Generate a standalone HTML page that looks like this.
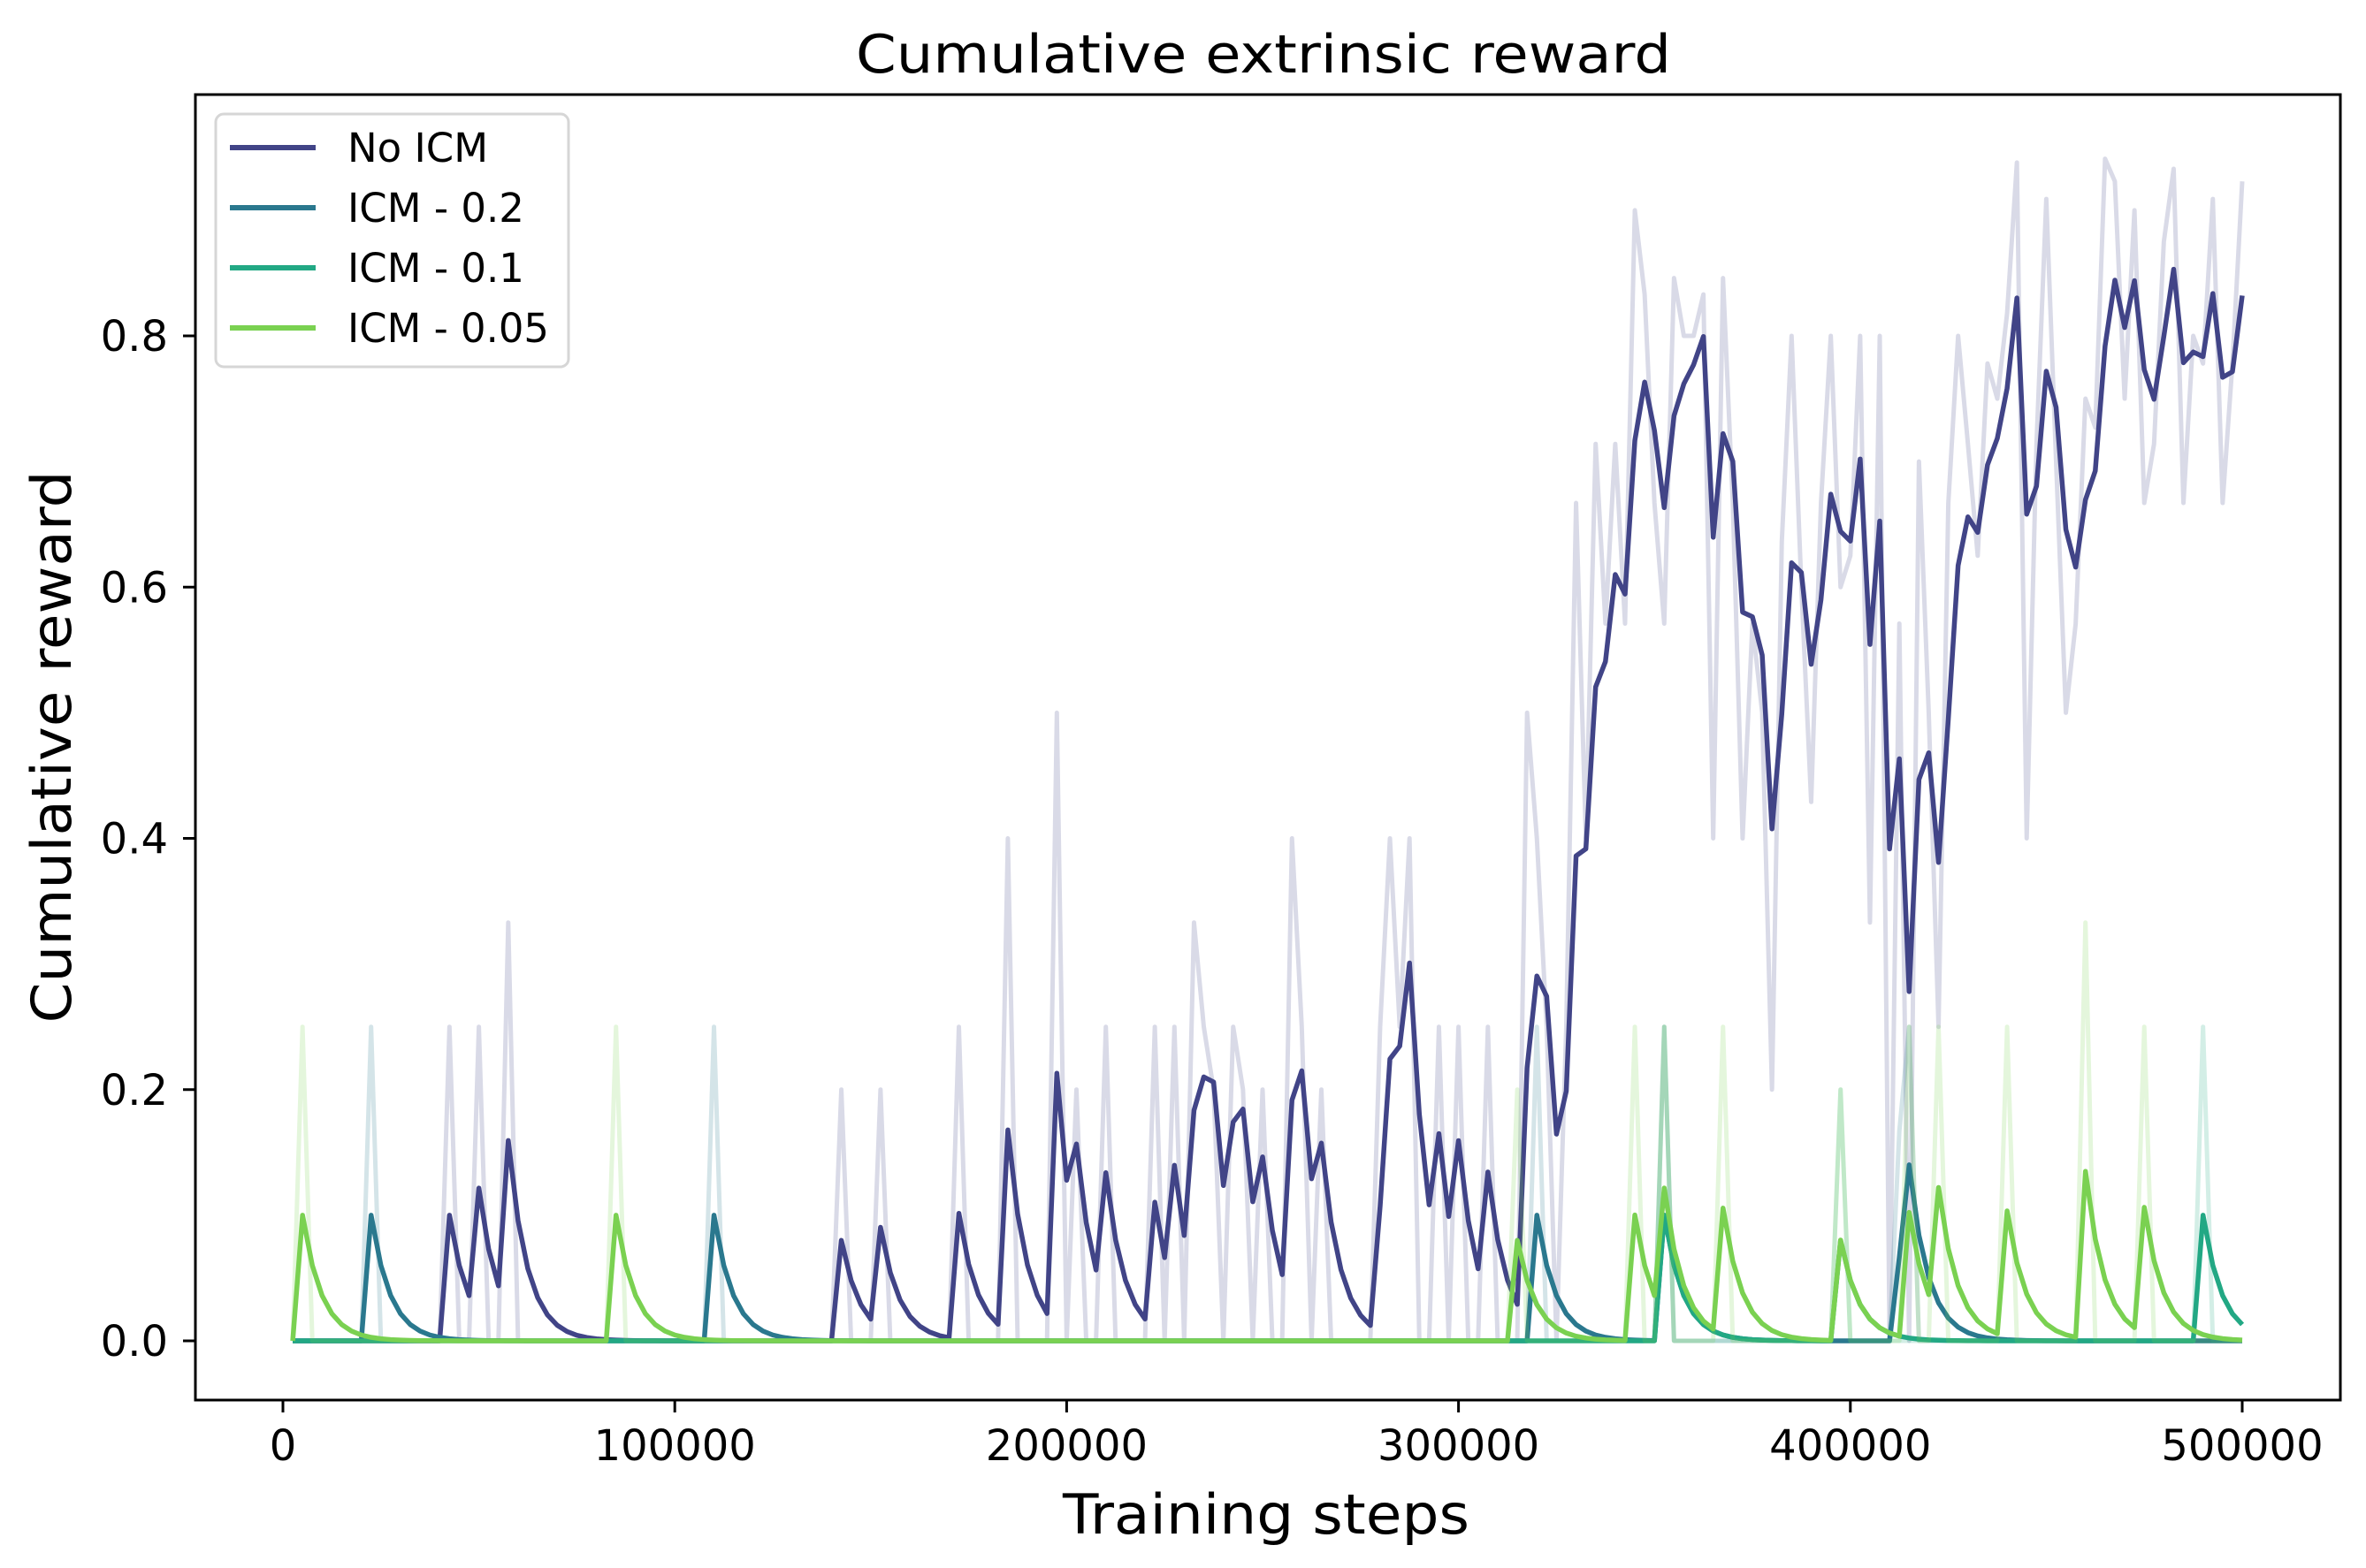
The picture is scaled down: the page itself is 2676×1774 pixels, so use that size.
<!DOCTYPE html>
<html>
<head>
<meta charset="utf-8">
<style>
  html, body { margin: 0; padding: 0; background: #ffffff; }
  svg { display: block; }
  text { font-family: "DejaVu Sans", "Liberation Sans", sans-serif; fill: #000; }
</style>
</head>
<body>
<svg id="chart" width="2676" height="1774" viewBox="0 0 2676 1774" xmlns="http://www.w3.org/2000/svg">
  <rect x="0" y="0" width="2676" height="1774" fill="#ffffff"/>
  <text x="1429" y="82" font-size="60" text-anchor="middle" textLength="922" lengthAdjust="spacingAndGlyphs">Cumulative extrinsic reward</text>
  <g id="series-layer"></g>
  <g id="axes-layer"></g>
  <text x="1432" y="1735" font-size="62" text-anchor="middle" textLength="460" lengthAdjust="spacingAndGlyphs">Training steps</text>
  <text transform="translate(80,845) rotate(-90)" x="0" y="0" font-size="62" text-anchor="middle" textLength="625" lengthAdjust="spacingAndGlyphs">Cumulative reward</text>
  <g id="legend">
    <rect x="244" y="129" width="399" height="286" rx="9" ry="9" fill="#ffffff" fill-opacity="0.8" stroke="#d6d6d6" stroke-width="3"/>
    <line x1="260" y1="167" x2="357" y2="167" stroke="#414487" stroke-width="6"/>
    <text x="393" y="183" font-size="45">No ICM</text>
    <line x1="260" y1="235" x2="357" y2="235" stroke="#2a788e" stroke-width="6"/>
    <text x="393" y="251" font-size="45">ICM - 0.2</text>
    <line x1="260" y1="303" x2="357" y2="303" stroke="#22a884" stroke-width="6"/>
    <text x="393" y="319" font-size="45">ICM - 0.1</text>
    <line x1="260" y1="371" x2="357" y2="371" stroke="#7ad151" stroke-width="6"/>
    <text x="393" y="387" font-size="45" textLength="228" lengthAdjust="spacingAndGlyphs">ICM - 0.05</text>
  </g>
</svg>
<script>
// ---- data ----
const stepInterval = 2500;          // logging interval (training steps)
const pointCount = 200;
const smoothingWeight = 0.6;        // EMA weight used for the bold lines
const xTicks = [0, 100000, 200000, 300000, 400000, 500000];
const xTickLabels = ["0", "100000", "200000", "300000", "400000", "500000"];
const yTicks = [0.0, 0.2, 0.4, 0.6, 0.8];
const yTickLabels = ["0.0", "0.2", "0.4", "0.6", "0.8"];

const noIcmRaw = [
  0,0,0,0,0,0,0,0,0,0,
  0,0,0,0,0,0,.25,0,0,.25,
  0,0,.333,0,0,0,0,0,0,0,
  0,0,0,0,0,0,0,0,0,0,
  0,0,0,0,0,0,0,0,0,0,
  0,0,0,0,0,0,.2,0,0,0,
  .2,0,0,0,0,0,0,0,.25,0,
  0,0,0,.4,0,0,0,0,.5,0,
  .2,0,0,.25,0,0,0,0,.25,0,
  .25,0,.333,.25,.2,0,.25,.2,0,.2,
  0,0,.4,.25,0,.2,0,0,0,0,
  0,.25,.4,.25,.4,0,0,.25,0,.25,
  0,0,.25,0,0,0,.5,.4,.25,0,
  .25,.667,.4,.714,.571,.714,.571,.9,.833,.667,
  .571,.846,.8,.8,.833,.4,.846,.667,.4,.571,
  .5,.2,.636,.8,.6,.429,.667,.8,.6,.625,
  .8,.333,.8,0,.571,0,.7,.5,.25,.667,
  .8,.714,.625,.778,.75,.818,.938,.4,.714,.909,
  .7,.5,.571,.75,.727,.941,.923,.75,.9,.667,
  .714,.875,.933,.667,.8,.778,.909,.667,.778,.923
];
// sparse series: training step of each non-zero reading and its value
const icm02Steps = [22500, 110000, 320000, 352500, 412500, 415000];
const icm02Vals  = [0.25, 0.25, 0.25, 0.25, 0.167, 0.25];
const icm01Steps = [352500, 397500, 490000];
const icm01Vals  = [0.25, 0.2, 0.25];
const icm005Steps = [5000, 85000, 315000, 345000, 352500, 367500, 397500, 415000, 422500, 440000, 460000, 475000];
const icm005Vals  = [0.25, 0.25, 0.2, 0.25, 0.25, 0.25, 0.2, 0.25, 0.25, 0.25, 0.333, 0.25];

// ---- layout ----
const plot = { left: 221, right: 2647, top: 107, bottom: 1584 };
const xScale = s => 320 + (s - 0) * (2536 - 320) / 500000;
const yScale = v => 1517 - v * 1421.25;
const NS = "http://www.w3.org/2000/svg";

const steps = [];
for (let k = 1; k <= pointCount; k++) steps.push(k * stepInterval);

function expand(stepList, valList) {
  const out = new Array(pointCount).fill(0);
  stepList.forEach((s, j) => {
    const idx = Math.round(s / stepInterval) - 1;
    if (idx >= 0 && idx < pointCount) out[idx] = valList[j];
  });
  return out;
}
function ema(vals) {
  const out = [];
  let last = vals[0];
  vals.forEach(v => { last = last * smoothingWeight + (1 - smoothingWeight) * v; out.push(last); });
  return out;
}
function pathFor(vals) {
  return vals.map((v, k) => (k ? "L" : "M") + xScale(steps[k]).toFixed(2) + "," + yScale(v).toFixed(2)).join("");
}

const seriesLayer = document.getElementById("series-layer");
const seriesDefs = [
  { name: "no-icm", color: "#414487", raw: noIcmRaw },
  { name: "icm-0-2", color: "#2a788e", raw: expand(icm02Steps, icm02Vals) },
  { name: "icm-0-1", color: "#22a884", raw: expand(icm01Steps, icm01Vals) },
  { name: "icm-0-05", color: "#7ad151", raw: expand(icm005Steps, icm005Vals) }
];
seriesDefs.forEach(sd => {
  const rawPath = document.createElementNS(NS, "path");
  rawPath.setAttribute("d", pathFor(sd.raw));
  rawPath.setAttribute("fill", "none");
  rawPath.setAttribute("stroke", sd.color);
  rawPath.setAttribute("stroke-opacity", "0.2");
  rawPath.setAttribute("stroke-width", "5");
  rawPath.setAttribute("stroke-linejoin", "round");
  
  
  seriesLayer.appendChild(rawPath);
  const smoothPath = document.createElementNS(NS, "path");
  smoothPath.setAttribute("d", pathFor(ema(sd.raw)));
  smoothPath.setAttribute("fill", "none");
  smoothPath.setAttribute("stroke", sd.color);
  smoothPath.setAttribute("stroke-width", "5.5");
  smoothPath.setAttribute("stroke-linejoin", "round");
  
  
  seriesLayer.appendChild(smoothPath);
});

// ---- axes ----
const axes = document.getElementById("axes-layer");
const frame = document.createElementNS(NS, "rect");
frame.setAttribute("x", plot.left);
frame.setAttribute("y", plot.top);
frame.setAttribute("width", plot.right - plot.left);
frame.setAttribute("height", plot.bottom - plot.top);
frame.setAttribute("fill", "none");
frame.setAttribute("stroke", "#000");
frame.setAttribute("stroke-width", "3");


axes.appendChild(frame);

xTicks.forEach((t, j) => {
  const x = xScale(t);
  const tick = document.createElementNS(NS, "line");
  tick.setAttribute("x1", x); tick.setAttribute("x2", x);
  tick.setAttribute("y1", plot.bottom); tick.setAttribute("y2", plot.bottom + 14);
  tick.setAttribute("stroke", "#000"); tick.setAttribute("stroke-width", "3");
  
  
  axes.appendChild(tick);
  const lbl = document.createElementNS(NS, "text");
  lbl.setAttribute("x", x); lbl.setAttribute("y", 1652);
  lbl.setAttribute("font-size", "48");
  lbl.setAttribute("text-anchor", "middle");
  lbl.textContent = xTickLabels[j];
  
  
  axes.appendChild(lbl);
});
yTicks.forEach((t, j) => {
  const y = yScale(t);
  const tick = document.createElementNS(NS, "line");
  tick.setAttribute("x1", plot.left - 14); tick.setAttribute("x2", plot.left);
  tick.setAttribute("y1", y); tick.setAttribute("y2", y);
  tick.setAttribute("stroke", "#000"); tick.setAttribute("stroke-width", "3");
  
  
  axes.appendChild(tick);
  const lbl = document.createElementNS(NS, "text");
  lbl.setAttribute("x", 190); lbl.setAttribute("y", y + 17);
  lbl.setAttribute("font-size", "48");
  lbl.setAttribute("text-anchor", "end");
  lbl.textContent = yTickLabels[j];
  
  
  axes.appendChild(lbl);
});
</script>
</body>
</html>
